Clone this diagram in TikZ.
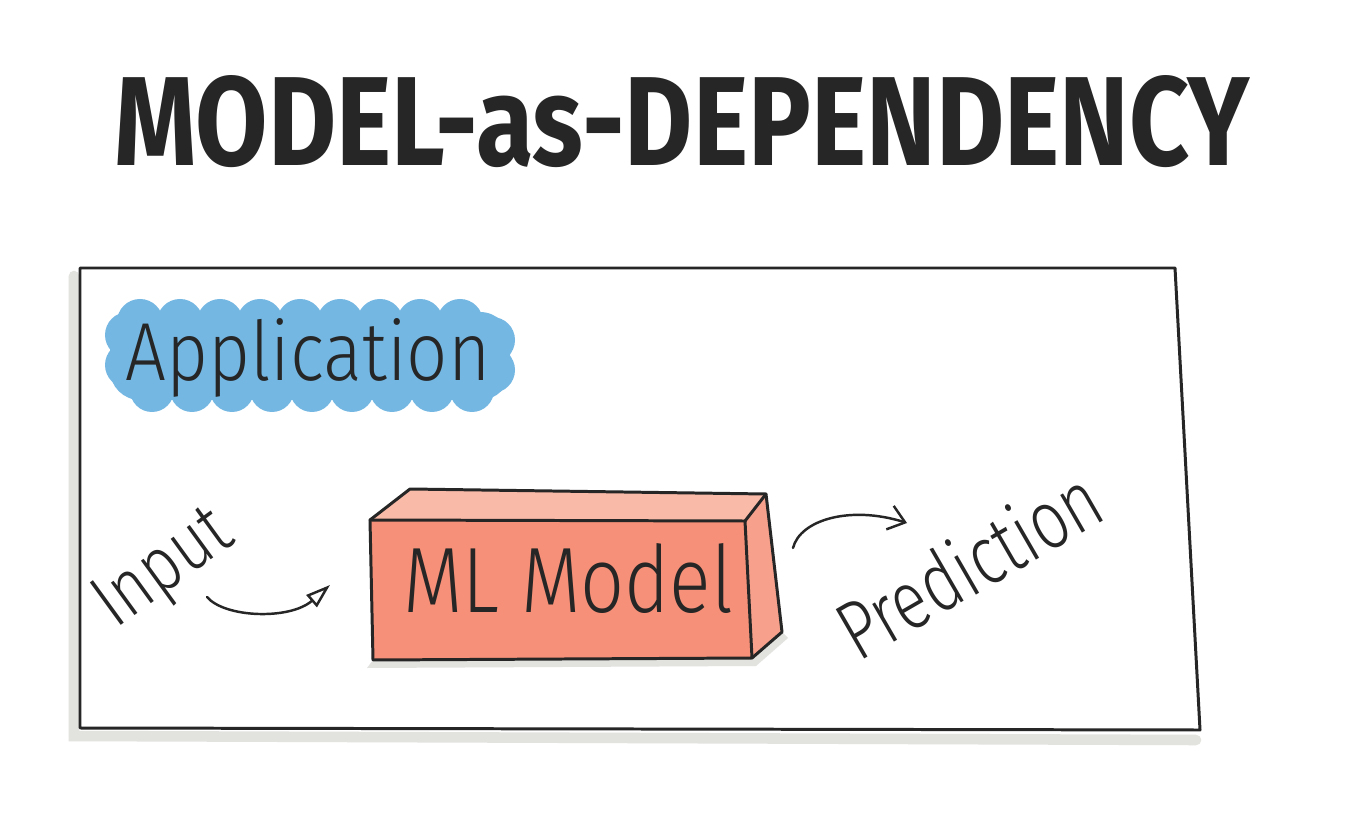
\documentclass[tikz,border=0pt]{standalone}
\usepackage{fontspec}
\setmainfont{Fira Sans}
\newfontfamily\handfont{Fira Sans Light}
\usetikzlibrary{arrows.meta,calc}
\definecolor{ink}{RGB}{38,38,38}
\definecolor{halo}{RGB}{226,226,223}
\definecolor{appblue}{RGB}{116,183,227}
\definecolor{modelred}{RGB}{246,144,120}
\definecolor{modelpale}{RGB}{250,186,168}
\tikzset{
  pen/.style={
    draw=ink,
    line width=1.7pt,
    line cap=round,
    line join=round
  },
  halopen/.style={
    draw=halo,
    line width=6pt,
    line cap=round
  },
  scribble/.style={
    inner sep=0,
    text=ink,
    font=\handfont
  },
  flow/.style={
    pen,
    line width=1.4pt
  },
  puff/.style={
    fill=appblue
  }
}

\begin{document}
\begin{tikzpicture}[x=0.02cm,y=-0.02cm]
  \useasboundingbox (0,0) rectangle (1354,830);
  \fill[white] (0,0) rectangle (1354,830);
  % title
  \node[scribble,font=\bfseries] (title) at (682,122)
    {\resizebox{22.7cm}{1.8cm}{MODEL-as-DEPENDENCY}};
  % application frame
  \draw[halopen] (74,276) -- (74,736) -- (1196,740);
  \draw[pen] (80,268) -- (1175,268) -- (1200,730) -- (80,728) -- cycle;
  \fill[puff,rounded corners=0.6cm] (110,312) rectangle (510,400);
  \foreach \x in {140,180,...,480}{
    \fill[puff] (\x,322) circle (23);
    \fill[puff] (\x+12,390) circle (22);
  }
  \foreach \y in {335,365}{
    \fill[puff] (128,\y) circle (23);
    \fill[puff] (492,\y+5) circle (23);
  }
  \node[scribble,anchor=base west] (app) at (125,381)
    {\resizebox{7.3cm}{1.24cm}{Application}};
  % the model box
  \coordinate (fa) at (370,520);
  \coordinate (fb) at (745,521);
  \coordinate (fc) at (752,658);
  \coordinate (fd) at (373,660);
  \coordinate (ba) at (410,489);
  \coordinate (bb) at (766,494);
  \coordinate (bc) at (782,632);
  \fill[halo] ($(fd)+(-6,8)$) -- ($(fc)+(4,8)$) -- ($(bc)+(6,6)$) -- (bc) -- (fc) -- (fd) -- cycle;
  \fill[modelpale] (fa) -- (ba) -- (bb) -- (fb) -- cycle;
  \fill[modelred!85!white] (fb) -- (bb) -- (bc) -- (fc) -- cycle;
  \fill[modelred] (fa) -- (fb) -- (fc) -- (fd) -- cycle;
  \draw[pen] (fa) -- (fb) -- (fc) -- (fd) -- cycle;
  \draw[pen] (fa) -- (ba) -- (bb) -- (bc) -- (fc);
  \draw[pen] (bb) -- (fb);
  \node[scribble,anchor=base west] (model) at (403,612)
    {\resizebox{6.6cm}{1.38cm}{ML Model}};
  % input and prediction
  \node[scribble,anchor=base west,rotate=36] (input) at (115,630)
    {\resizebox{3.0cm}{1.05cm}{Input}};
  \node[scribble,anchor=base west,rotate=30] (pred) at (858,663)
    {\resizebox{5.8cm}{1.25cm}{Prediction}};
  \coordinate (ins) at (207,597);
  \coordinate (ine) at (330,585);
  \coordinate (outs) at (793,548);
  \coordinate (oute) at (907,523);
  \draw[flow,-{Triangle[open,length=14pt,width=9pt]}]
    (ins) .. controls (225,618) and (290,620) .. (ine);
  \draw[flow,-{Straight Barb[length=9pt,width=14pt]}]
    (outs) .. controls (800,520) and (850,505) .. (oute);
\end{tikzpicture}
\end{document}
